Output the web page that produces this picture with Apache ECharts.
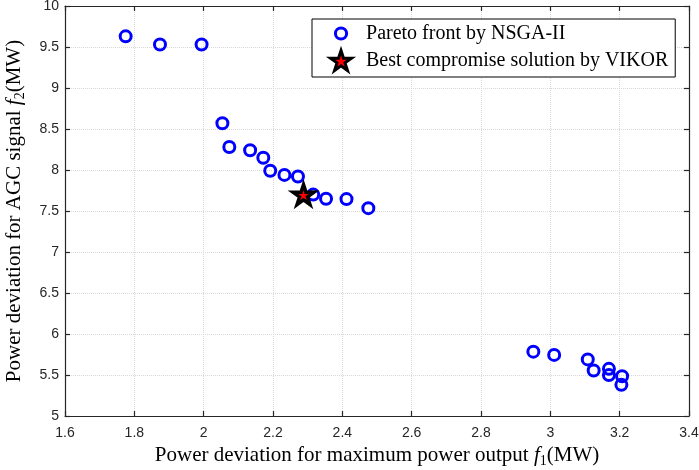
<!DOCTYPE html>
<html>
<head>
<meta charset="utf-8">
<script src="https://cdn.jsdelivr.net/npm/echarts@6/dist/echarts.min.js"></script>
<style>
  html, body { margin: 0; padding: 0; background: #fff; }
  #chart { width: 699px; height: 470px; }
</style>
</head>
<body>
<div id="chart"></div>
<script>
// Pareto front points (f1, f2)
const paretoF1 = [1.775, 1.874, 1.994, 2.054, 2.074, 2.134, 2.172, 2.192, 2.233, 2.272, 2.316, 2.353, 2.412, 2.475,
  2.951, 3.011, 3.108, 3.125, 3.169, 3.169, 3.207, 3.205];
const paretoF2 = [9.63, 9.53, 9.53, 8.57, 8.28, 8.24, 8.15, 7.99, 7.94, 7.92, 7.70, 7.65, 7.645, 7.535,
  5.785, 5.745, 5.69, 5.555, 5.575, 5.50, 5.485, 5.38];

// best compromise solution
const bestF1 = [2.288];
const bestF2 = [7.70];

const xTicks = { min: 1.6, max: 3.4, interval: 0.2 };
const yTicks = { min: 5, max: 10, interval: 0.5 };

const seriesNames = ['Pareto front by NSGA-II', 'Best compromise solution by VIKOR'];

// pentagram
const starPath = 'path://M50,0L61.23,34.55L97.55,34.55L68.17,55.9L79.39,90.45L50,69.1L20.61,90.45L31.83,55.9L2.45,34.55L38.77,34.55Z';
// small circle inside a padded box, for the legend icon only
const legendCircle = 'path://M0,0M100,100M78,50A28,28,0,1,1,22,50A28,28,0,1,1,78,50Z';

const serif = "'Liberation Serif', 'DejaVu Serif', serif";
const sans = "'Liberation Sans', Arial, sans-serif";
const axisColor = '#262626';

function zip(a, b) {
  return a.map((v, i) => [v, b[i]]);
}

function baseAxis(t, extra) {
  return Object.assign({
    type: 'value',
    min: t.min,
    max: t.max,
    interval: t.interval,
    axisLine: { show: true, onZero: false, lineStyle: { color: axisColor, width: 1.2 } },
    axisTick: { show: true, inside: true, length: 5, lineStyle: { color: axisColor, width: 1.2 } },
    axisLabel: { show: false },
    splitLine: { show: false }
  }, extra);
}

function axisName(text, sub, tail) {
  return '{a|' + text + '}{i|f}{s|' + sub + '}{a|' + tail + '}';
}

const nameRich = {
  a: { fontFamily: serif, fontSize: 21, color: '#000' },
  i: { fontFamily: serif, fontSize: 21, fontStyle: 'italic', color: '#000' },
  s: { fontFamily: serif, fontSize: 14, color: '#000', padding: [11, 0, 0, 0] }
};

const chart = echarts.init(document.getElementById('chart'));

chart.setOption({
  backgroundColor: '#fff',
  animation: false,
  grid: { left: 65, right: 10, top: 6, bottom: 54, containLabel: false, outerBoundsMode: 'none' },
  legend: {
    orient: 'vertical',
    left: 312,
    top: 19,
    padding: [3, 7, 5, 17],
    itemWidth: 40,
    itemHeight: 20,
    itemGap: 4,
    backgroundColor: '#fff',
    borderColor: '#000',
    borderWidth: 1,
    textStyle: { fontFamily: serif, fontSize: 20, color: '#000', lineHeight: 20 },
    data: [
      { name: seriesNames[0], icon: legendCircle, itemStyle: { color: 'rgba(0,0,0,0)', borderColor: '#0000ff', borderWidth: 3, opacity: 1 } },
      { name: seriesNames[1], icon: starPath, itemStyle: { color: '#ff0000', borderColor: '#000', borderWidth: 3, opacity: 1 } }
    ]
  },
  xAxis: [
    baseAxis(xTicks, {
      position: 'bottom',
      axisLabel: {
        show: true, color: '#262626', fontFamily: sans, fontSize: 14, margin: 10,
        formatter: (v) => String(Math.round(v * 10) / 10)
      },
      splitLine: { show: true, lineStyle: { color: '#d8d8d8', type: 'dotted', width: 1 } },
      name: axisName('Power deviation for maximum power output ', '1', '(MW)'),
      nameLocation: 'middle',
      nameGap: 27,
      nameTextStyle: { rich: nameRich }
    }),
    baseAxis(xTicks, { position: 'top' })
  ],
  yAxis: [
    baseAxis(yTicks, {
      position: 'left',
      axisLabel: {
        show: true, color: '#262626', fontFamily: sans, fontSize: 14, margin: 6,
        formatter: (v) => String(Math.round(v * 10) / 10)
      },
      splitLine: { show: true, lineStyle: { color: '#d8d8d8', type: 'dotted', width: 1 } },
      name: axisName('Power deviation for AGC signal ', '2', '(MW)'),
      nameLocation: 'middle',
      nameGap: 38,
      nameRotate: 90,
      nameTextStyle: { rich: nameRich }
    }),
    baseAxis(yTicks, { position: 'right' })
  ],
  series: [
    {
      name: seriesNames[0],
      type: 'scatter',
      xAxisIndex: 0,
      yAxisIndex: 0,
      symbol: 'circle',
      symbolSize: 11,
      itemStyle: { color: 'rgba(0,0,0,0)', borderColor: '#0000ff', borderWidth: 3, opacity: 1 },
      data: zip(paretoF1, paretoF2),
      z: 2
    },
    {
      name: seriesNames[1],
      type: 'scatter',
      xAxisIndex: 0,
      yAxisIndex: 0,
      symbol: starPath,
      symbolKeepAspect: true,
      symbolSize: 21,
      itemStyle: { color: '#ff0000', borderColor: '#000', borderWidth: 3.5, opacity: 1 },
      data: zip(bestF1, bestF2),
      z: 3
    }
  ]
});
</script>
</body>
</html>
